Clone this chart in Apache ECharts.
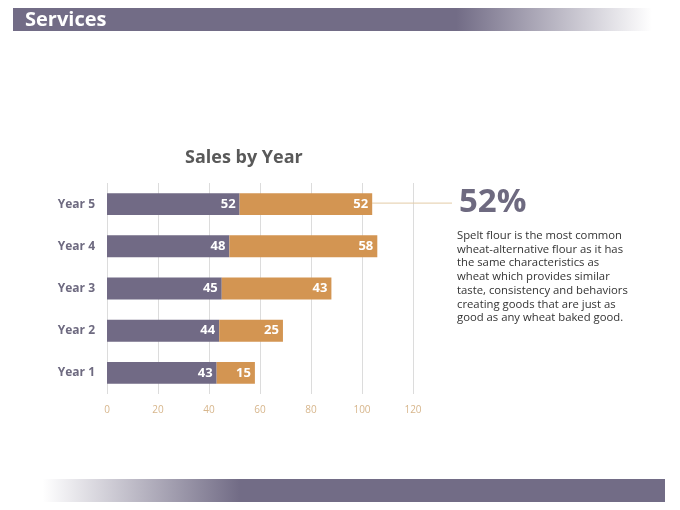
<!DOCTYPE html>
<html>
<head>
<meta charset="utf-8">
<title>Sales by Year</title>
<script src="https://cdn.jsdelivr.net/npm/echarts@6/dist/echarts.min.js"></script>
<style>
    html, body { margin: 0; padding: 0; background: #ffffff; }
    #main { width: 680px; height: 510px; }
</style>
</head>
<body>
<div id="main"></div>
<script>
// chart data
var categories = ['Year 1', 'Year 2', 'Year 3', 'Year 4', 'Year 5'];
var firstValues = [43, 44, 45, 48, 52];
var secondValues = [15, 25, 43, 58, 52];
var axisMin = 0;
var axisMax = 120;
var axisStep = 20;

var bigNumber = '52%';
var noteLines = [
    'Spelt flour is the most common',
    'wheat-alternative flour as it has',
    'the same characteristics as',
    'wheat which provides similar',
    'taste, consistency and behaviors',
    'creating goods that are just as',
    'good as any wheat baked good.'
];

var purple = '#716a85';
var orange = '#d39552';
var fontName = '"Open Sans", "Noto Sans", sans-serif';

var myChart = echarts.init(document.getElementById('main'));

var option = {
    backgroundColor: '#ffffff',
    animation: false,
    textStyle: { fontFamily: fontName },
    title: {
        text: 'Sales by Year',
        left: 180,
        top: 144,
        textStyle: {
            color: '#595959',
            fontFamily: fontName,
            fontWeight: 'bold',
            fontSize: 18
        }
    },
    grid: {
        left: 107,
        right: 267,
        top: 183,
        bottom: 116,
        containLabel: false
    },
    xAxis: {
        type: 'value',
        min: axisMin,
        max: axisMax,
        interval: axisStep,
        axisLine: { show: false },
        axisTick: { show: false },
        axisLabel: {
            color: '#d7b68c',
            fontSize: 10,
            margin: 11
        },
        splitLine: {
            show: true,
            lineStyle: { color: '#dcdcdc', width: 1 }
        }
    },
    yAxis: {
        type: 'category',
        data: categories,
        axisLine: { show: false },
        axisTick: { show: false },
        axisLabel: {
            color: '#6e6a80',
            fontWeight: 'bold',
            fontSize: 12,
            margin: 12
        }
    },
    series: [
        {
            name: 'Series 1',
            type: 'bar',
            stack: 'total',
            barWidth: '52%',
            itemStyle: { color: purple },
            label: {
                show: true,
                position: 'insideRight',
                distance: 4,
                color: '#ffffff',
                fontWeight: 'bold',
                fontSize: 13
            },
            data: firstValues
        },
        {
            name: 'Series 2',
            type: 'bar',
            stack: 'total',
            barWidth: '52%',
            itemStyle: { color: orange },
            label: {
                show: true,
                position: 'insideRight',
                distance: 4,
                color: '#ffffff',
                fontWeight: 'bold',
                fontSize: 13
            },
            data: secondValues
        }
    ]
};

myChart.setOption(option);

// leader line from the top bar to the callout
var last = categories.length - 1;
var endPt = myChart.convertToPixel({ gridIndex: 0 }, [firstValues[last] + secondValues[last], categories[last]]);

myChart.setOption({
    graphic: [
        {
            type: 'rect',
            shape: { x: 13, y: 8, width: 652, height: 23 },
            style: {
                fill: new echarts.graphic.LinearGradient(0, 0, 1, 0, [
                    { offset: 0, color: '#726c86' },
                    { offset: 0.68, color: '#726c86' },
                    { offset: 0.98, color: 'rgba(255,255,255,1)' },
                    { offset: 1, color: 'rgba(255,255,255,1)' }
                ])
            },
            silent: true
        },
        {
            type: 'text',
            left: 25,
            top: 10,
            style: {
                text: 'Services',
                fill: '#ffffff',
                fontFamily: fontName,
                fontWeight: 'bold',
                fontSize: 20
            }
        },
        {
            type: 'rect',
            shape: { x: 10, y: 479, width: 655, height: 23 },
            style: {
                fill: new echarts.graphic.LinearGradient(0, 0, 1, 0, [
                    { offset: 0, color: 'rgba(255,255,255,1)' },
                    { offset: 0.05, color: 'rgba(255,255,255,1)' },
                    { offset: 0.35, color: '#726c86' },
                    { offset: 1, color: '#726c86' }
                ])
            },
            silent: true
        },
        {
            type: 'line',
            shape: { x1: endPt[0], y1: endPt[1] - 1, x2: 452, y2: endPt[1] - 1 },
            style: { stroke: '#e3cba6', lineWidth: 1 },
            silent: true
        },
        {
            type: 'text',
            left: 459,
            top: 186,
            style: {
                text: bigNumber,
                fill: '#6e6a80',
                fontFamily: fontName,
                fontWeight: 'bold',
                fontSize: 33
            }
        },
        {
            type: 'text',
            left: 457,
            top: 229,
            style: {
                text: noteLines.join('\n'),
                fill: '#333333',
                fontFamily: fontName,
                fontSize: 11.3,
                lineHeight: 13.7
            }
        }
    ]
});
</script>
</body>
</html>
